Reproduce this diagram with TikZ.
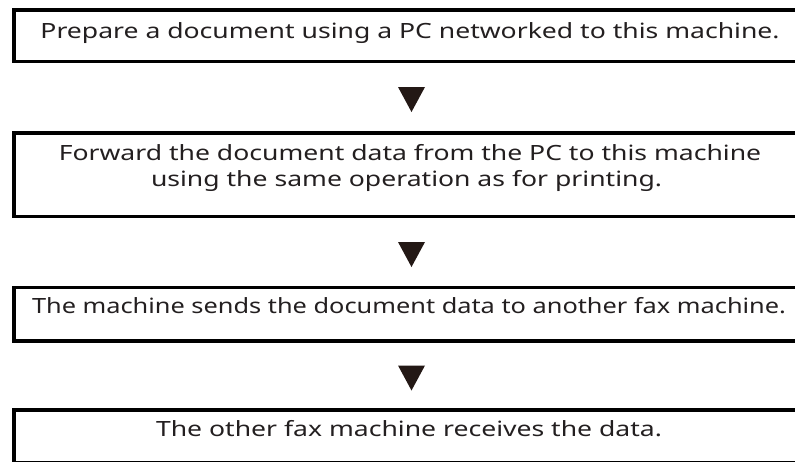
\documentclass[tikz,border=0pt]{standalone}
\usepackage{fontspec}
\setmainfont[FakeStretch=1.265]{Noto Sans}
\newfontfamily\narrowfont[FakeStretch=1.207]{Noto Sans}
\usetikzlibrary{calc}
\definecolor{ink}{HTML}{231F20}
\definecolor{tri}{HTML}{231815}
\tikzset{
  stepbox/.style={draw=black, line width=3.3pt, rectangle, minimum width=794pt, inner sep=0pt},
  steptext/.style={anchor=base, inner sep=0pt, text=ink, font=\fontsize{21pt}{26pt}\selectfont},
  downtri/.style={fill=tri, draw=none}
}
\begin{document}
\begin{tikzpicture}[x=1pt, y=-1pt]
\useasboundingbox (0,0) rectangle (795,461);
\clip (0,0) rectangle (795,461);
\node[stepbox, minimum height=51.5pt] (b1) at (411,35.75) {};
\node[stepbox, minimum height=83.5pt] (b2) at (411,174.75) {};
\node[stepbox, minimum height=53.5pt] (b3) at (411,314.25) {};
\node[stepbox, minimum height=53pt] (b4) at (411,436.5) {};
\node[steptext] (t1) at (410,38.3) {Prepare a document using a PC networked to this machine.};
\node[steptext] (t2a) at (410,160.5) {Forward the document data from the PC to this machine};
\node[steptext] (t2b) at (406.5,186.5) {using the same operation as for printing.};
\node[steptext] (t3) at (409,313.3) {\narrowfont The machine sends the document data to another fax machine.};
\node[steptext] (t4) at (409,436.7) {The other fax machine receives the data.};
\coordinate (a1) at (411.5,87);
\coordinate (a2) at (411.5,242);
\coordinate (a3) at (411.5,365.5);
\foreach \c in {a1,a2,a3}{
  \fill[downtri] ($(\c)+(-13.5,0)$) -- ($(\c)+(13.5,0)$) -- ($(\c)+(0,25)$) -- cycle;
}
\end{tikzpicture}
\end{document}
